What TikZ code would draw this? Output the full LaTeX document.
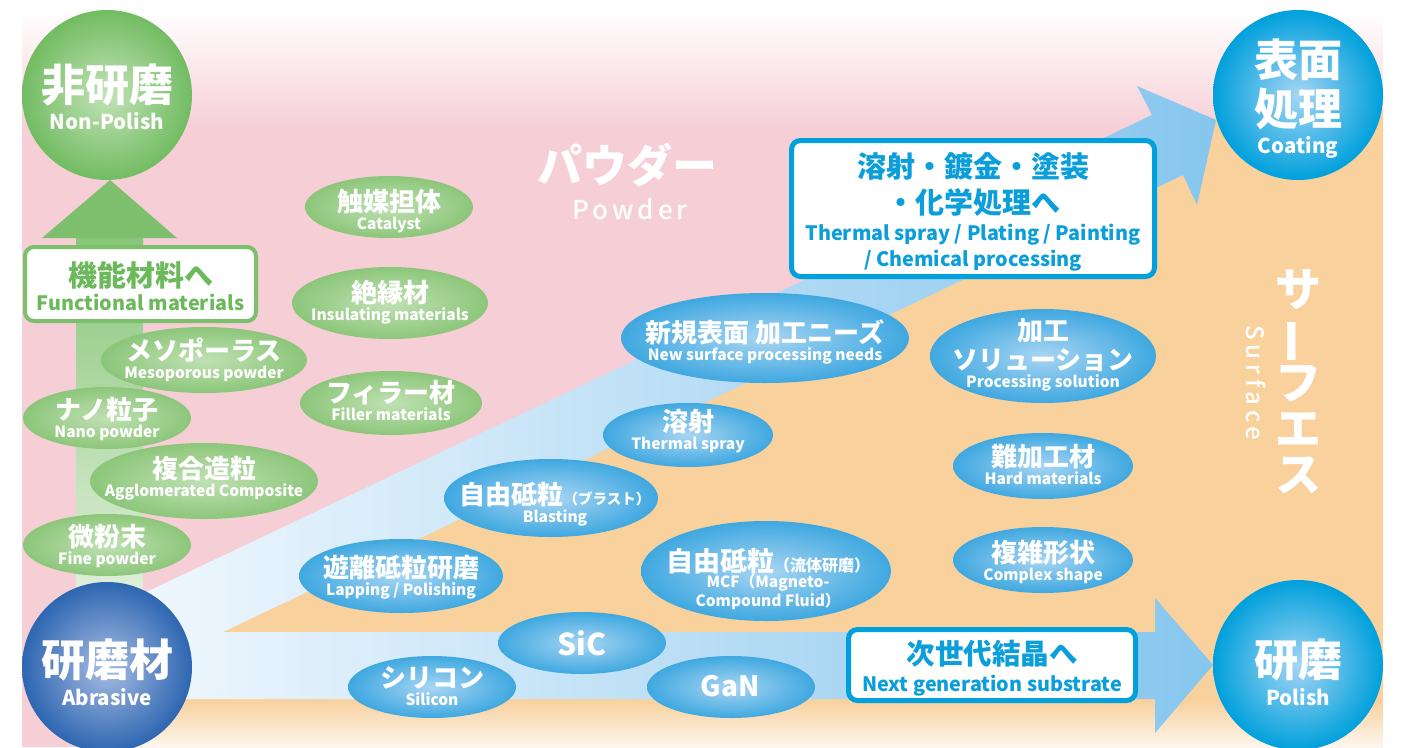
\documentclass[tikz,border=0pt]{standalone}
\usepackage{fontspec}
\setmainfont{Noto Sans CJK JP}
\IfFontExistsTF{Noto Sans CJK JP Medium}
  {\newfontfamily\jpmed{Noto Sans CJK JP Medium}}
  {\newfontfamily\jpmed{Noto Sans CJK JP}}
\usepackage{graphicx}
\definecolor{pinkbg}{HTML}{F6CED6}
\definecolor{peachbg}{HTML}{F8D19D}
\definecolor{peachlo}{HTML}{FDF6EE}
\definecolor{bandlo}{HTML}{F4F9FE}
\definecolor{bandhi}{HTML}{86C6EE}
\definecolor{grnout}{HTML}{72BC62}
\definecolor{grnin}{HTML}{C2E2B6}
\definecolor{gelout}{HTML}{8CC67A}
\definecolor{gelin}{HTML}{C0E1B3}
\definecolor{grnhead}{HTML}{7EBF6E}
\definecolor{grnshaft}{HTML}{88C67A}
\definecolor{grnpale}{HTML}{E2F0DC}
\definecolor{grntxt}{HTML}{6CB95C}
\definecolor{grnline}{HTML}{7CC06C}
\definecolor{belout}{HTML}{3FA8E0}
\definecolor{belin}{HTML}{A8D5F3}
\definecolor{navyout}{HTML}{2D66B1}
\definecolor{navyin}{HTML}{A9BDE3}
\definecolor{cyout}{HTML}{00A0DC}
\definecolor{cyin}{HTML}{A6D6F4}
\definecolor{cytxt}{HTML}{0A9EDB}
\newcommand\fs[2]{\fontsize{#1}{#2}\selectfont}
\newcommand\en[2]{{\fontsize{#1}{#1}\selectfont #2}}
\tikzset{
 gfill/.style={inner color=gelin, outer color=gelout},
 bfill/.style={inner color=belin, outer color=belout},
 lbl/.style={text=white, align=center, inner sep=0pt},
 ell/.style={lbl, font=\fs{26}{18}\bfseries},
 circtxt/.style={lbl, font=\fs{44}{28}\bfseries},
 boxtxt/.style={align=center, inner sep=0pt, font=\fs{29}{24}\bfseries},
 gbox/.style={draw=grnline, fill=white, line width=4pt, rounded corners=9pt},
 cbox/.style={draw=cyout, fill=white, line width=5pt, rounded corners=9pt},
}
\begin{document}
\begin{tikzpicture}[x=1pt,y=-1pt]
\useasboundingbox (0,0) rectangle (1413,747);
% background
\fill[pinkbg] (22,130) rectangle (1383,747);
\shade[top color=white, bottom color=pinkbg] (22,10) rectangle (1383,131);
\fill[peachbg] (223,632) -- (1215,118) -- (1300,95) -- (1383,110) -- (1383,701) -- (150,701) -- (150,632) -- cycle;
\shade[top color=peachbg, bottom color=peachlo] (107,700) rectangle (1383,747);
% blue arrows
\shade[left color=bandlo, right color=bandhi]
  (100,614) -- (1152,115) -- (1137,86) -- (1216,120) -- (1197,205) -- (1183,175)
  -- (223,632) -- (1155,632) -- (1155,598) -- (1213,665) -- (1155,733) -- (1155,699)
  -- (100,699) -- cycle;
% green arrow
\shade[top color=grnshaft, bottom color=grnpale] (76,237) rectangle (143,600);
\fill[grnhead] (42,238) -- (110,180) -- (177,238) -- cycle;
% big labels
\node[text=white, font=\fs{45}{45}\bfseries] (pw) at (627,165) {パウダー};
\node[text=white, font=\jpmed\fs{26}{26}\addfontfeature{LetterSpace=15}] (pwe) at (630,209) {Powder};
\node[text=white, font=\fs{46}{46}\bfseries, align=center, inner sep=0pt] (sf) at (1298,382) {サ\\\rotatebox[origin=c]{90}{ー}\\フ\\エ\\ス};
\node[text=white, rotate=-90, font=\jpmed\fs{24}{24}\addfontfeature{LetterSpace=20}] (sfe) at (1256,383) {Surface};
% green ellipses
\shade[gfill] (389,207) ellipse (84pt and 31pt);
\node[ell] (cat) at (389,211) {触媒担体\\\en{15.5}{Catalyst}};
\shade[gfill] (390,303) ellipse (98pt and 36pt);
\node[ell] (ins) at (390,302) {絶縁材\\\en{15.5}{Insulating materials}};
\shade[gfill] (204,360) ellipse (103pt and 33pt);
\node[ell] (meso) at (204,360) {メソポーラス\\\en{15.5}{Mesoporous powder}};
\shade[gfill] (391,403) ellipse (91pt and 32pt);
\node[ell] (fil) at (391,400) {フィラー材\\\en{15.5}{Filler materials}};
\shade[gfill] (107,418) ellipse (84pt and 31pt);
\node[ell] (nano) at (107,419) {ナノ粒子\\\en{15.5}{Nano powder}};
\shade[gfill] (204,481) ellipse (114pt and 38pt);
\node[ell] (agg) at (204,478) {複合造粒\\\en{15.5}{Agglomerated Composite}};
\shade[gfill] (107,545) ellipse (84pt and 31pt);
\node[ell] (fine) at (107,546) {微粉末\\\en{15.5}{Fine powder}};
% blue ellipses
\shade[bfill] (765,338) ellipse (144pt and 45pt);
\node[ell] (nsp) at (765,342) {新規表面 加工ニーズ\\\en{15.5}{New surface processing needs}};
\shade[bfill] (1043,356) ellipse (113pt and 47pt);
\node[ell, font=\fs{26}{29}\bfseries] (psol) at (1043,355) {加工\\ソリューション\\[-11pt]\en{15.5}{Processing solution}};
\shade[bfill] (688,435) ellipse (85pt and 32pt);
\node[ell] (tsp) at (688,431) {溶射\\\en{15.5}{Thermal spray}};
\shade[bfill] (551,498) ellipse (107pt and 39pt);
\node[ell] (bla) at (555,504) {自由砥粒\en{14.5}{（ブラスト）}\\\en{15.5}{Blasting}};
\shade[bfill] (1043,466) ellipse (90pt and 33pt);
\node[ell] (hard) at (1043,464) {難加工材\\\en{15.5}{Hard materials}};
\shade[bfill] (1043,560) ellipse (90pt and 33pt);
\node[ell] (cplx) at (1043,562) {複雑形状\\\en{15.5}{Complex shape}};
\shade[bfill] (401,576) ellipse (102pt and 37pt);
\node[ell] (lap) at (401,577) {遊離砥粒研磨\\\en{15.5}{Lapping / Polishing}};
\shade[bfill] (766,571) ellipse (125pt and 50pt);
\node[ell, font=\fs{27}{16}\bfseries] (mcf) at (768,579) {自由砥粒\en{16}{（流体研磨）}\\\en{15.5}{MCF（Magneto-}\\[1pt]\en{15.5}{Compound Fluid）}};
\shade[bfill] (582,643) ellipse (84pt and 31pt);
\node[ell, font=\fs{30}{30}\bfseries] (sic) at (582,643) {SiC};
\shade[bfill] (432,687) ellipse (84pt and 31pt);
\node[ell] (si) at (432,686) {シリコン\\\en{15.5}{Silicon}};
\shade[bfill] (731,687) ellipse (84pt and 31pt);
\node[ell, font=\fs{28}{28}\bfseries] (gan) at (730,686) {GaN};
% boxes
\draw[gbox] (25,247) rectangle (256,321);
\node[boxtxt, text=grntxt] (func) at (140.5,286.5) {機能材料へ\\\en{19.8}{Functional materials}};
\draw[cbox] (791.5,140.5) rectangle (1154.5,276.5);
\node[boxtxt, text=cytxt, font=\fs{29}{35}\bfseries] (tbox) at (973,212)
  {溶射・鍍金・塗装\\[1pt]・化学処理へ\\[-8pt]\en{19.8}{Thermal spray / Plating / Painting}\\[-9pt]\en{19.8}{/ Chemical processing}};
\draw[cbox] (848.5,629.5) rectangle (1135.5,700.5);
\node[boxtxt, text=cytxt, font=\fs{28.5}{27.5}\bfseries] (nbox) at (992,668) {次世代結晶へ\\\en{19.8}{Next generation substrate}};
% circles
\shade[inner color=grnin, outer color=grnout] (107,95) circle (85pt);
\node[circtxt] (nonpol) at (107,97) {非研磨\\\en{20.5}{Non-Polish}};
\shade[inner color=navyin, outer color=navyout] (107,667) circle (85pt);
\node[circtxt, font=\fs{44}{29}\bfseries] (abr) at (107,672) {研磨材\\\en{20.5}{Abrasive}};
\shade[inner color=cyin, outer color=cyout] (1298,95) circle (85pt);
\node[circtxt, font=\fs{44}{49}\bfseries] (coat) at (1298,98.5) {表面\\処理\\[-21pt]\en{20.5}{Coating}};
\shade[inner color=cyin, outer color=cyout] (1298,665) circle (85pt);
\node[circtxt, font=\fs{44}{29}\bfseries] (pol) at (1298,672) {研磨\\\en{20.5}{Polish}};
\end{tikzpicture}
\end{document}
